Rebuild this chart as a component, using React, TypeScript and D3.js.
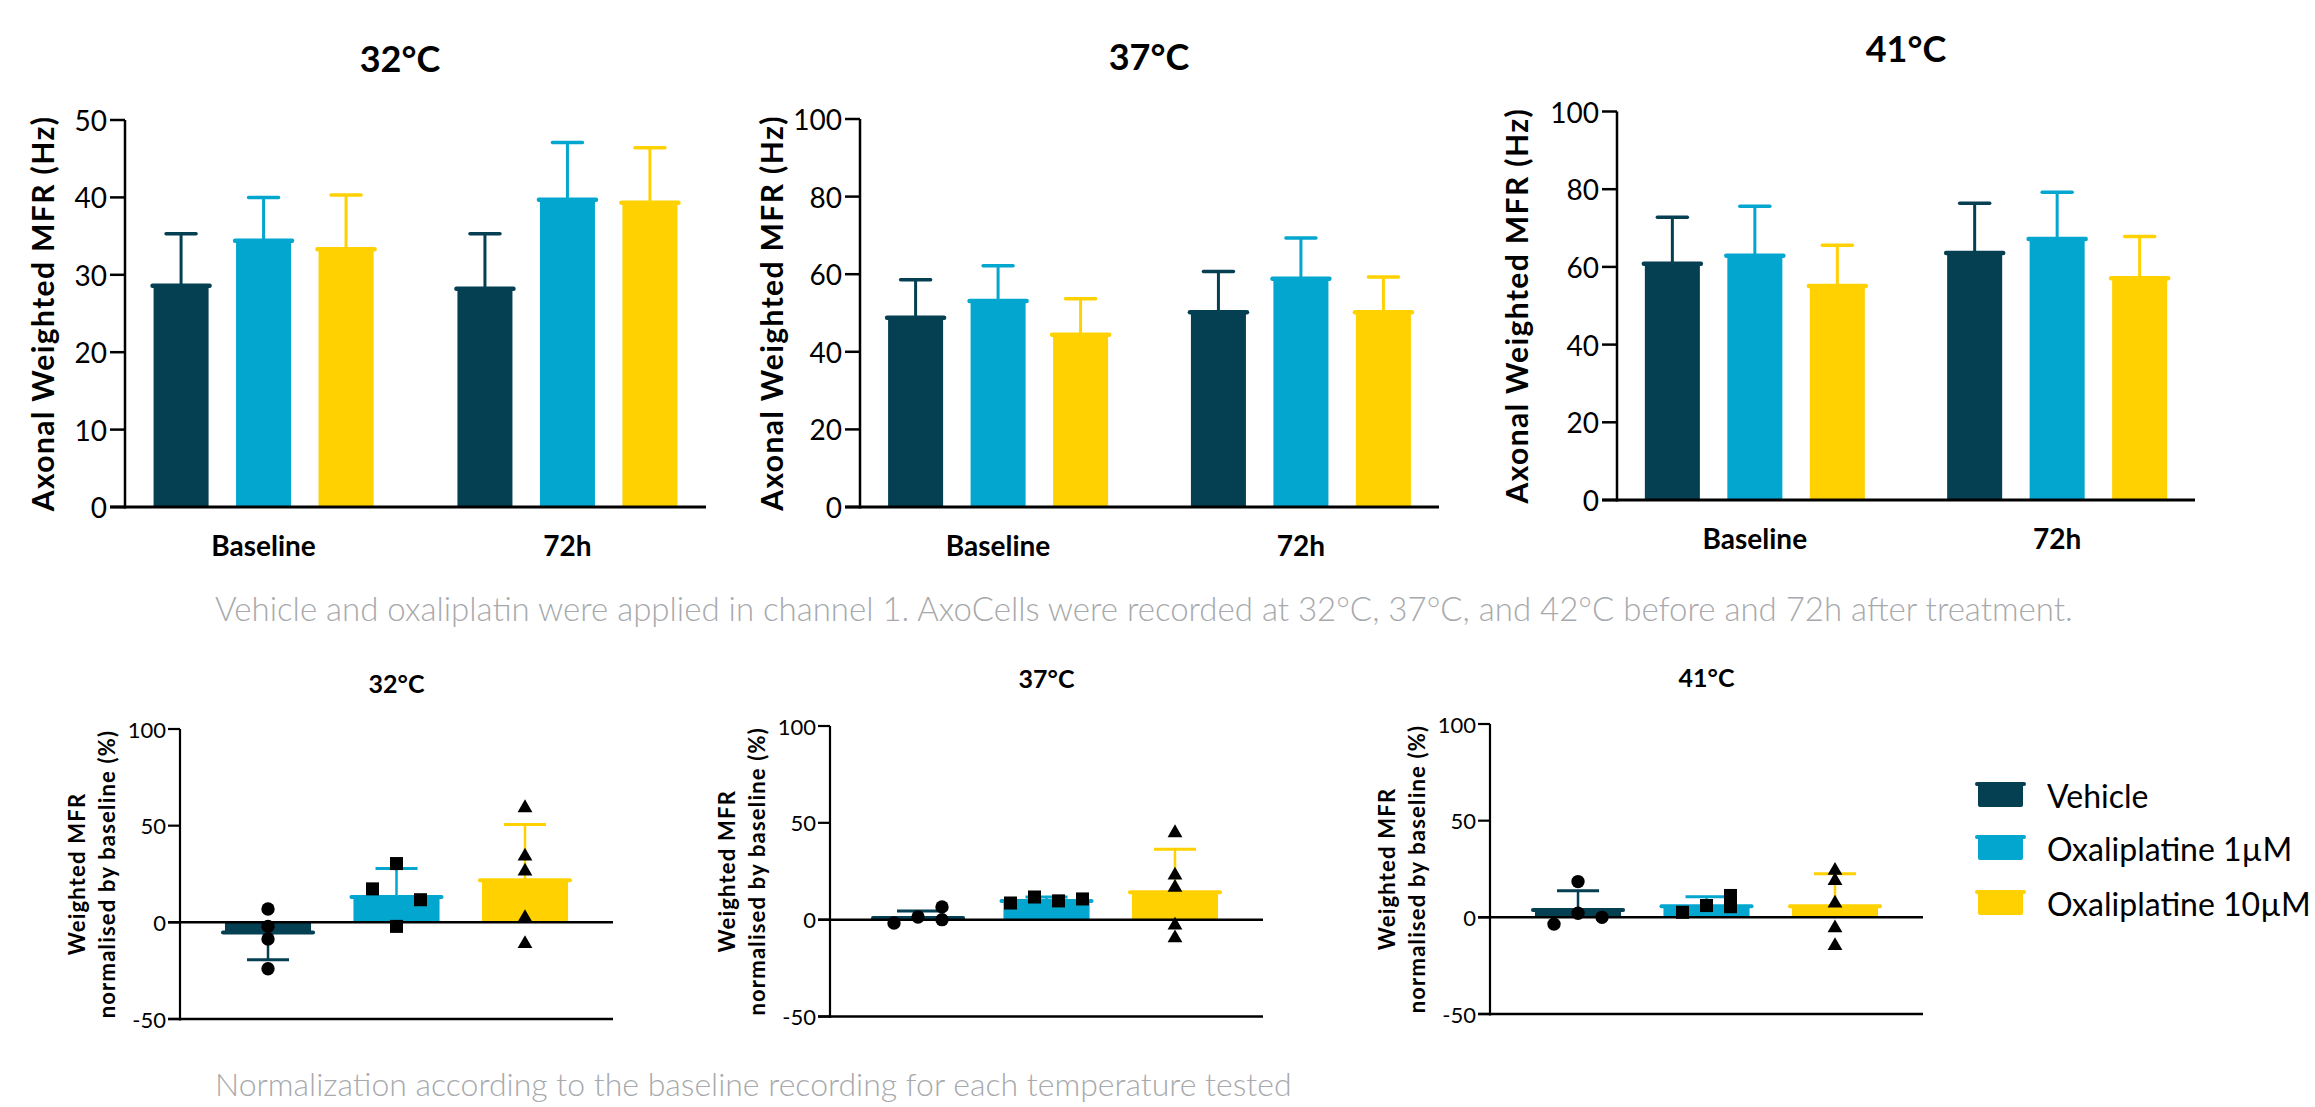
import React from "react";
import * as d3 from "d3";

// ---------- data ----------
const temps = ["32°C", "37°C", "41°C"];
const groups = ["Baseline", "72h"];
const seriesNames = ["Vehicle", "Oxaliplatine 1µM", "Oxaliplatine 10µM"];
const seriesColors = ["#043f52", "#03a6ce", "#ffd100"];

const topYMax = [50, 100, 100];
const topYStep = [10, 20, 20];

// means [group][series]
const mean32 = [[28.6, 34.4, 33.3], [28.2, 39.7, 39.3]];
const sd32 = [[6.7, 5.6, 7.0], [7.1, 7.4, 7.1]];
const mean37 = [[48.8, 53.1, 44.4], [50.2, 58.8, 50.2]];
const sd37 = [[9.8, 9.1, 9.3], [10.5, 10.5, 9.1]];
const mean41 = [[60.8, 62.9, 55.1], [63.6, 67.2, 57.1]];
const sd41 = [[12.0, 12.7, 10.5], [12.8, 12.0, 10.7]];
const topMeans = [mean32, mean37, mean41];
const topSds = [sd32, sd37, sd41];

// normalised
const normTicks = [-50, 0, 50, 100];
const normMean32 = [-5.2, 13.1, 21.8];
const normSd32 = [14.1, 14.7, 28.8];
const normMean37 = [0.9, 9.7, 14.1];
const normSd37 = [3.6, 2.0, 22.3];
const normMean41 = [3.8, 5.7, 5.7];
const normSd41 = [10.0, 5.0, 16.8];
const normMeans = [normMean32, normMean37, normMean41];
const normSds = [normSd32, normSd37, normSd41];

// individual points: [value, horizontal jitter slot]
const pts32 = [
  [[6.9, 0], [-2.1, 0], [-8.6, 0], [-24.0, 0]],
  [[30.4, 0], [17.3, -1], [11.7, 1], [-2.1, 0]],
  [[59.2, 0], [34.2, 0], [26.4, 0], [2.4, 0], [-11.1, 0]],
];
const pts37 = [
  [[-1.7, -1], [1.4, 0], [6.6, 1], [0.0, 1]],
  [[8.6, -1.5], [11.7, -0.5], [9.7, 0.5], [10.7, 1.5]],
  [[44.8, 0], [22.9, 0], [16.6, 0], [-2.9, 0], [-9.5, 0]],
];
const pts41 = [
  [[18.5, 0], [2.1, 0], [0.0, 1], [-3.5, -1]],
  [[2.6, -1], [6.1, 0], [11.3, 1], [5.5, 1]],
  [[24.2, 0], [19.0, 0], [7.3, 0], [-5.5, 0], [-14.7, 0]],
];
const normPts = [pts32, pts37, pts41];

const caption1 =
  "Vehicle and oxaliplatin were applied in channel 1. AxoCells were recorded at 32°C, 37°C, and 42°C before and 72h after treatment.";
const caption2 = "Normalization according to the baseline recording for each temperature tested";

// ---------- layout ----------
const topPanels = [
  { x0: 125, x1: 706, yTop: 120, yBot: 507, titleX: 400, titleY: 58, ytX: 42 },
  { x0: 860, x1: 1439, yTop: 119, yBot: 507, titleX: 1149, titleY: 56, ytX: 771 },
  { x0: 1617, x1: 2195, yTop: 111.5, yBot: 500, titleX: 1906, titleY: 48, ytX: 1516 },
];
const botPanels = [
  { x0: 180, x1: 613, yTop: 729, yBot: 1019, titleY: 683 },
  { x0: 830, x1: 1263, yTop: 726, yBot: 1016.5, titleY: 678 },
  { x0: 1490, x1: 1923, yTop: 724, yBot: 1014, titleY: 677 },
];

const FONT = "Lato, 'Open Sans', sans-serif";

function TopChart({ idx }: { idx: number }) {
  const p = topPanels[idx];
  const y = d3.scaleLinear().domain([0, topYMax[idx]]).range([p.yBot, p.yTop]);
  const xg = d3.scalePoint<string>().domain(groups).range([p.x0, p.x1]).padding(0.456);
  const xs = d3.scaleBand<string>().domain(seriesNames).range([-110, 110]).paddingInner(0.333).paddingOuter(0);
  const ticks = d3.range(0, topYMax[idx] + 1, topYStep[idx]);
  const midY = (p.yTop + p.yBot) / 2;
  return (
    <g>
      <text x={p.titleX} y={p.titleY} textAnchor="middle" dominantBaseline="central"
        fontFamily={FONT} fontWeight={700} fontSize={36}>{temps[idx]}</text>
      <text transform={`translate(${p.ytX},${midY}) rotate(-90)`} textAnchor="middle" dominantBaseline="central"
        fontFamily={FONT} fontWeight={700} fontSize={30} letterSpacing={1.4}>Axonal Weighted MFR (Hz)</text>
      {groups.map((g, gi) =>
        seriesNames.map((s, si) => {
          const m = topMeans[idx][gi][si];
          const e = m + topSds[idx][gi][si];
          const bx = (xg(g) as number) + (xs(s) as number);
          const bw = xs.bandwidth();
          const cx = bx + bw / 2;
          return (
            <g key={g + s}>
              <line x1={cx} x2={cx} y1={y(m)} y2={y(e)} stroke={seriesColors[si]} strokeWidth={3} />
              <line x1={cx - 15} x2={cx + 15} y1={y(e)} y2={y(e)} stroke={seriesColors[si]} strokeWidth={3.5} strokeLinecap="round" />
              <rect x={bx} y={y(m)} width={bw} height={p.yBot - y(m)} fill={seriesColors[si]} />
              <line x1={bx - 1} x2={bx + bw + 1} y1={y(m)} y2={y(m)} stroke={seriesColors[si]} strokeWidth={4.5} strokeLinecap="round" />
            </g>
          );
        })
      )}
      <line x1={p.x0} x2={p.x0} y1={p.yTop} y2={p.yBot + 1.5} stroke="#000" strokeWidth={2.5} />
      <line x1={p.x0 - 15} x2={p.x1} y1={p.yBot} y2={p.yBot} stroke="#000" strokeWidth={3} />
      {ticks.map((t) => (
        <g key={t}>
          <line x1={p.x0 - 15} x2={p.x0} y1={y(t)} y2={y(t)} stroke="#000" strokeWidth={2.5} />
          <text x={p.x0 - 18} y={y(t)} textAnchor="end" dominantBaseline="central" fontFamily={FONT} fontSize={28}>{t}</text>
        </g>
      ))}
      {groups.map((g) => (
        <text key={g} x={xg(g) as number} y={p.yBot + 38} textAnchor="middle" dominantBaseline="central"
          fontFamily={FONT} fontWeight={700} fontSize={28}>{g}</text>
      ))}
    </g>
  );
}

function BotChart({ idx }: { idx: number }) {
  const p = botPanels[idx];
  const y = d3.scaleLinear().domain([-50, 100]).range([p.yBot, p.yTop]);
  const xb = d3.scaleBand<string>().domain(seriesNames).range([p.x0, p.x1]).paddingInner(0.33).paddingOuter(0.35);
  const bw = xb.bandwidth();
  const midY = (p.yTop + p.yBot) / 2;
  const shapes = [d3.symbolCircle, d3.symbolSquare, d3.symbolTriangle];
  const sizes = [140, 170, 95];
  return (
    <g>
      <text x={(p.x0 + p.x1) / 2} y={p.titleY} textAnchor="middle" dominantBaseline="central"
        fontFamily={FONT} fontWeight={700} fontSize={25}>{temps[idx]}</text>
      <text transform={`translate(${p.x0 - 104},${midY}) rotate(-90)`} textAnchor="middle" dominantBaseline="central"
        fontFamily={FONT} fontWeight={700} fontSize={22} letterSpacing={1.2}>Weighted MFR</text>
      <text transform={`translate(${p.x0 - 74},${midY}) rotate(-90)`} textAnchor="middle" dominantBaseline="central"
        fontFamily={FONT} fontWeight={700} fontSize={22} letterSpacing={1.2}>normalised by baseline (%)</text>
      {seriesNames.map((s, si) => {
        const m = normMeans[idx][si];
        const sd = normSds[idx][si];
        const e = m >= 0 ? m + sd : m - sd;
        const bx = xb(s) as number;
        const cx = bx + bw / 2;
        return (
          <g key={s}>
            <line x1={cx} x2={cx} y1={y(m)} y2={y(e)} stroke={seriesColors[si]} strokeWidth={2.5} />
            <line x1={cx - 21} x2={cx + 21} y1={y(e)} y2={y(e)} stroke={seriesColors[si]} strokeWidth={3} />
            <rect x={bx} y={Math.min(y(m), y(0))} width={bw} height={Math.abs(y(0) - y(m))} fill={seriesColors[si]} />
            <line x1={bx - 2} x2={bx + bw + 2} y1={y(m)} y2={y(m)} stroke={seriesColors[si]} strokeWidth={4} strokeLinecap="round" />
          </g>
        );
      })}
      <line x1={p.x0} x2={p.x0} y1={p.yTop} y2={p.yBot + 1.5} stroke="#000" strokeWidth={2.2} />
      <line x1={p.x0 - 12} x2={p.x1} y1={y(0)} y2={y(0)} stroke="#000" strokeWidth={2.5} />
      <line x1={p.x0 - 12} x2={p.x1} y1={p.yBot} y2={p.yBot} stroke="#000" strokeWidth={2.5} />
      {normTicks.map((t) => (
        <g key={t}>
          <line x1={p.x0 - 12} x2={p.x0} y1={y(t)} y2={y(t)} stroke="#000" strokeWidth={2.2} />
          <text x={p.x0 - 14} y={y(t)} textAnchor="end" dominantBaseline="central" fontFamily={FONT} fontSize={22}>{t}</text>
        </g>
      ))}
      {seriesNames.map((s, si) => {
        const cx = (xb(s) as number) + bw / 2;
        const path = d3.symbol().type(shapes[si]).size(sizes[si])() as string;
        return normPts[idx][si].map((pt, k) => (
          <path key={s + k} d={path} transform={`translate(${cx + pt[1] * 24},${y(pt[0])})`} fill="#000" />
        ));
      })}
    </g>
  );
}

function Legend() {
  const rows = [795, 848, 903];
  return (
    <g>
      {seriesNames.map((s, i) => (
        <g key={s}>
          <rect x={1978} y={rows[i] - 12} width={45} height={24} fill={seriesColors[i]} rx={2} />
          <line x1={1977} x2={2024} y1={rows[i] - 11} y2={rows[i] - 11} stroke={seriesColors[i]} strokeWidth={4} strokeLinecap="round" />
          <text x={2047} y={rows[i]} dominantBaseline="central" fontFamily={FONT} fontSize={32}>{s}</text>
        </g>
      ))}
    </g>
  );
}

export default function App() {
  return (
    <svg width={2315} height={1107} style={{ position: "absolute", left: 0, top: 0, background: "#fff" }}>
      <rect width={2315} height={1107} fill="#fff" />
      {[0, 1, 2].map((i) => <TopChart key={i} idx={i} />)}
      <text x={215} y={608} dominantBaseline="central" fontFamily={FONT} fontWeight={300} fontSize={33} fill="#a7a9ac">{caption1}</text>
      {[0, 1, 2].map((i) => <BotChart key={i} idx={i} />)}
      <Legend />
      <text x={215} y={1083} dominantBaseline="central" fontFamily={FONT} fontWeight={300} fontSize={32} fill="#a7a9ac">{caption2}</text>
    </svg>
  );
}
